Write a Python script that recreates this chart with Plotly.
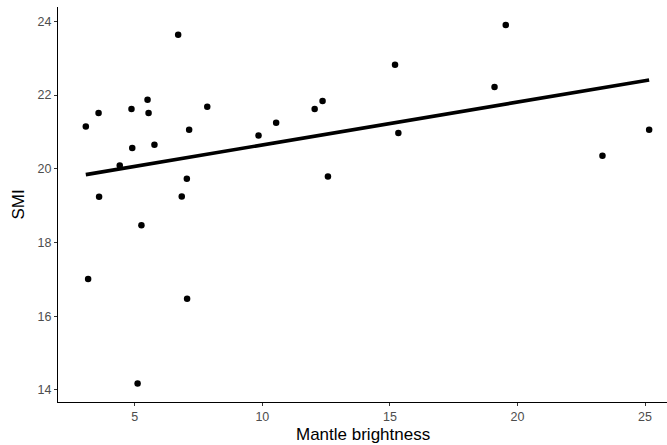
import plotly.graph_objects as go

brightness = [3.08, 3.58, 3.60, 4.41, 4.87, 4.90, 5.50, 5.54, 5.77, 5.26,
              6.70, 6.84, 7.04, 7.13, 7.84, 9.85, 10.54, 12.05, 12.36, 12.57,
              15.20, 15.33, 19.54, 19.10, 23.33, 25.16, 3.17, 7.05, 5.11]
smi = [21.15, 21.51, 19.24, 20.09, 21.62, 20.56, 21.87, 21.51, 20.65, 18.47,
       23.64, 19.25, 19.73, 21.06, 21.68, 20.90, 21.25, 21.62, 21.84, 19.79,
       22.82, 20.97, 23.90, 22.22, 20.35, 21.06, 17.01, 16.47, 14.17]

fit_x = [3.08, 25.16]
fit_y = [19.84, 22.41]

x_ticks = [5, 10, 15, 20, 25]
y_ticks = [14, 16, 18, 20, 22, 24]

fig = go.Figure()
fig.add_trace(go.Scatter(x=brightness, y=smi, mode="markers",
                         marker=dict(color="black", size=6.5, line=dict(width=0)),
                         showlegend=False))
fig.add_trace(go.Scatter(x=fit_x, y=fit_y, mode="lines",
                         line=dict(color="black", width=3.6),
                         showlegend=False))

axis_common = dict(showgrid=False, zeroline=False, showline=True,
                   linecolor="black", linewidth=1.2, ticks="outside",
                   ticklen=3, tickwidth=1, tickcolor="#333333",
                   tickfont=dict(family="Liberation Sans, Arial", size=12.5, color="#4d4d4d"),
                   mirror=False)

plot_h = 445 - 7 - 43

fig.update_layout(
    width=667, height=445,
    margin=dict(l=58, r=0, t=7, b=43),
    paper_bgcolor="white", plot_bgcolor="white",
    font=dict(family="Liberation Sans, Arial", color="black"),
    xaxis=dict(range=[1.99, 25.86], tickvals=x_ticks, **axis_common),
    yaxis=dict(range=[13.67, 24.39], tickvals=y_ticks,
               title=dict(text="SMI", font=dict(size=17, color="black"), standoff=8),
               **axis_common),
    annotations=[dict(text="Mantle brightness", xref="paper", yref="paper",
                      x=0.5, y=-(434 - 402) / plot_h, xanchor="center", yanchor="middle",
                      showarrow=False, font=dict(size=17, color="black"))],
)

fig.write_html("out.html")
